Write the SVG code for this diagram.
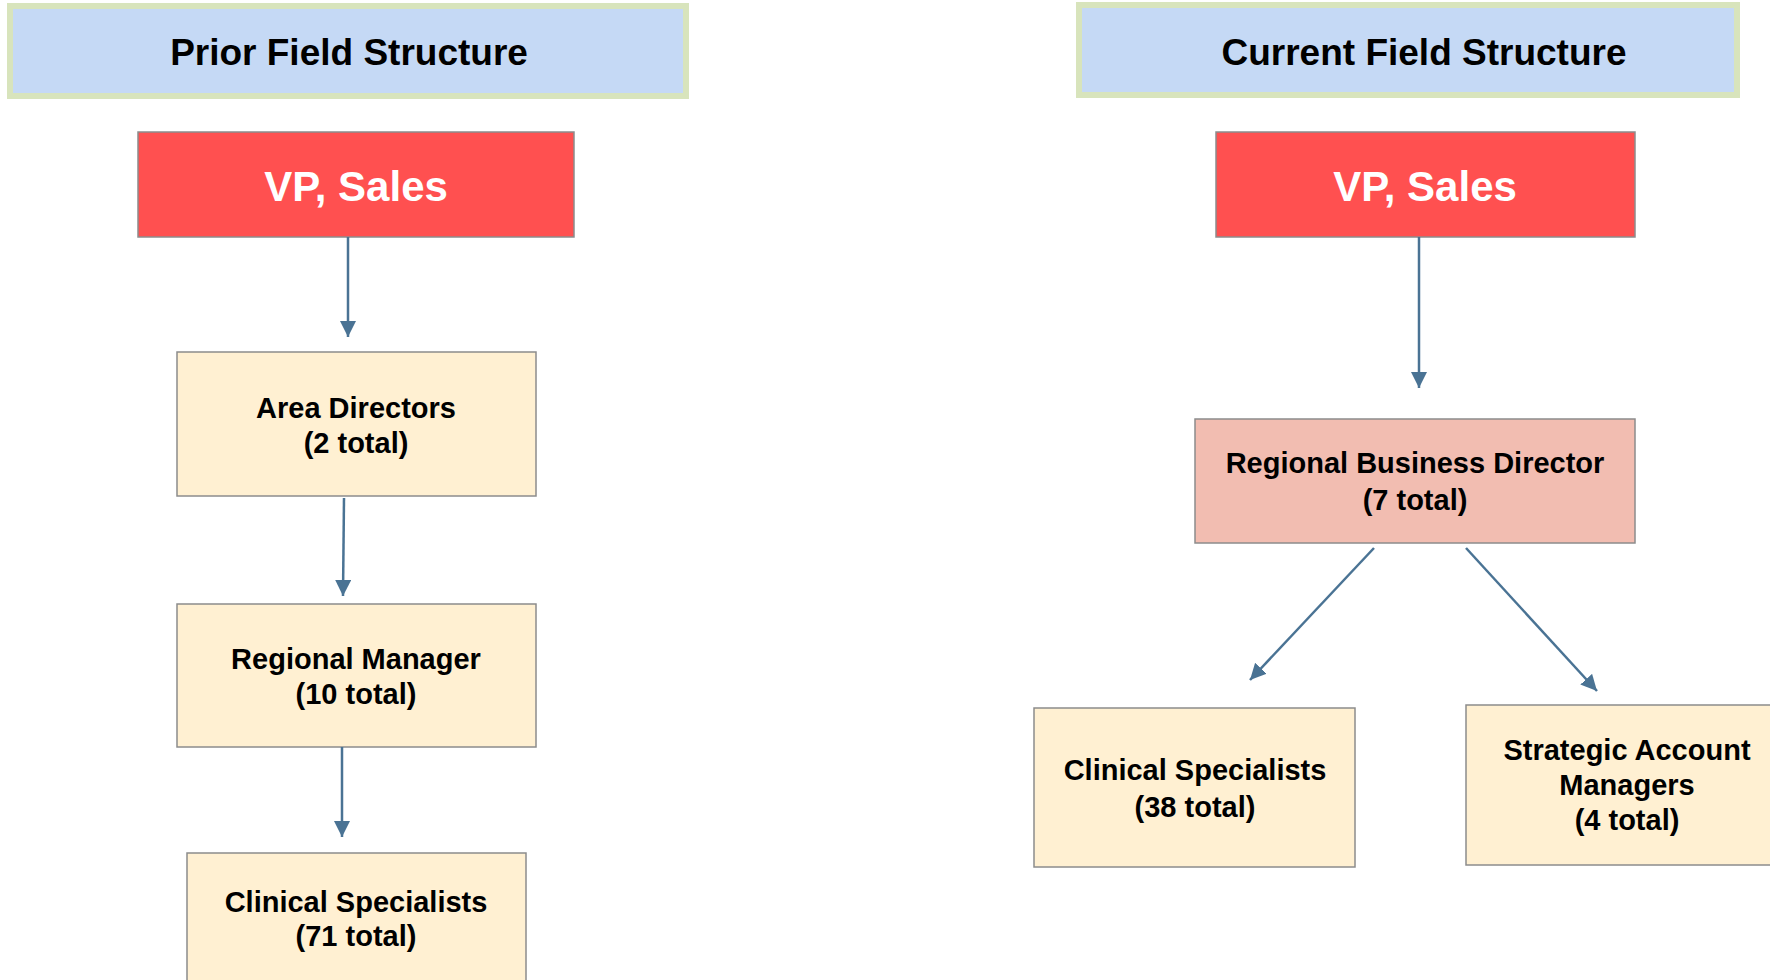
<svg xmlns="http://www.w3.org/2000/svg" width="1770" height="980" viewBox="0 0 1770 980">
<defs>
<marker id="ah" markerUnits="userSpaceOnUse" markerWidth="18" markerHeight="18" refX="16" refY="8" orient="auto">
<path d="M0,0 L16,8 L0,16 z" fill="#4a7394"/>
</marker>
<style>
.title{fill:#c5d9f5;stroke:#d8e4bc;stroke-width:6}
.vp{fill:#ff5050;stroke:#8c8c8c;stroke-width:1.5}
.rbd{fill:#f2bdb1;stroke:#8c8c8c;stroke-width:1.5}
.box{fill:#fff0d2;stroke:#8c8c8c;stroke-width:1.5}
text{font-family:"Liberation Sans",Arial,sans-serif;font-weight:bold;text-anchor:middle}
.tt{font-size:37px;fill:#000}
.vt{font-size:42px;fill:#fff}
.bt{font-size:29px;fill:#000}
.conn line{stroke:#4a7394;stroke-width:2.5;marker-end:url(#ah)}
</style>
</defs>
<rect width="1770" height="980" fill="#fff"/>
<g id="title-prior">
<rect class="title" x="10" y="6" width="676" height="90"/>
<text class="tt" x="349" y="65">Prior Field Structure</text>
</g>
<g id="title-current">
<rect class="title" x="1079" y="5" width="658" height="90"/>
<text class="tt" x="1424" y="65">Current Field Structure</text>
</g>
<g id="vp-prior">
<rect class="vp" x="138" y="132" width="436" height="105"/>
<text class="vt" x="356" y="201">VP, Sales</text>
</g>
<g id="area-directors">
<rect class="box" x="177" y="352" width="359" height="144"/>
<text class="bt" x="356" y="418">Area Directors</text>
<text class="bt" x="356" y="453">(2 total)</text>
</g>
<g id="regional-manager">
<rect class="box" x="177" y="604" width="359" height="143"/>
<text class="bt" x="356" y="669">Regional Manager</text>
<text class="bt" x="356" y="704">(10 total)</text>
</g>
<g id="clinical-prior">
<rect class="box" x="187" y="853" width="339" height="140"/>
<text class="bt" x="356" y="912">Clinical Specialists</text>
<text class="bt" x="356" y="946">(71 total)</text>
</g>
<g id="vp-current">
<rect class="vp" x="1216" y="132" width="419" height="105"/>
<text class="vt" x="1425" y="201">VP, Sales</text>
</g>
<g id="rbd">
<rect class="rbd" x="1195" y="419" width="440" height="124"/>
<text class="bt" x="1415" y="473">Regional Business Director</text>
<text class="bt" x="1415" y="510">(7 total)</text>
</g>
<g id="clinical-current">
<rect class="box" x="1034" y="708" width="321" height="159"/>
<text class="bt" x="1195" y="780">Clinical Specialists</text>
<text class="bt" x="1195" y="817">(38 total)</text>
</g>
<g id="sam">
<rect class="box" x="1466" y="705" width="310" height="160"/>
<text class="bt" x="1627" y="760">Strategic Account</text>
<text class="bt" x="1627" y="795">Managers</text>
<text class="bt" x="1627" y="830">(4 total)</text>
</g>
<g id="connectors" class="conn">
<line x1="348" y1="237" x2="348" y2="337"/>
<line x1="344" y1="498" x2="343" y2="596"/>
<line x1="342" y1="747" x2="342" y2="837"/>
<line x1="1419" y1="237" x2="1419" y2="388"/>
<line x1="1374" y1="548" x2="1250" y2="680"/>
<line x1="1466" y1="548" x2="1597" y2="691"/>
</g>
</svg>
